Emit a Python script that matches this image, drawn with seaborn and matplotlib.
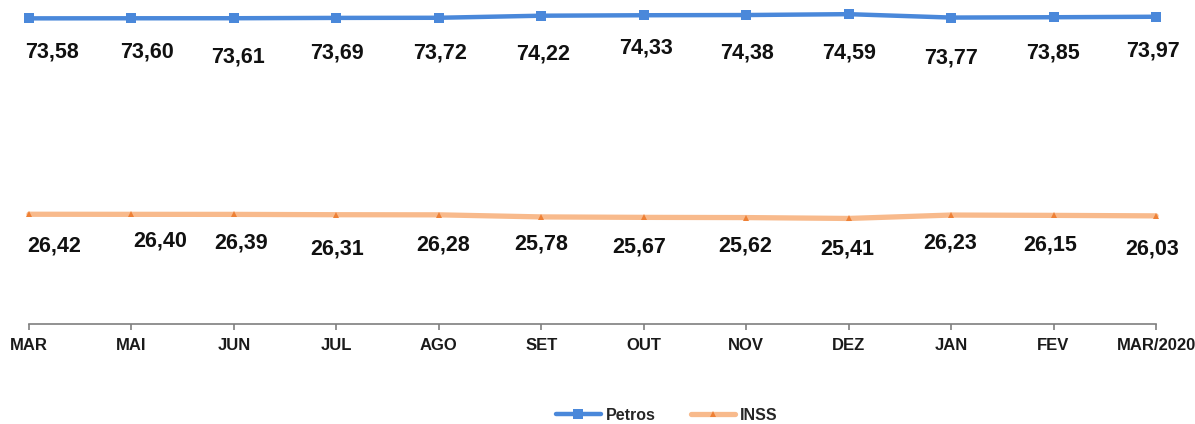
import matplotlib
matplotlib.use("Agg")
import matplotlib.pyplot as plt
import seaborn as sns
import pandas as pd

# ---- data ----
months = ["MAR", "MAI", "JUN", "JUL", "AGO", "SET", "OUT", "NOV", "DEZ", "JAN", "FEV", "MAR/2020"]
petros = [73.58, 73.60, 73.61, 73.69, 73.72, 74.22, 74.33, 74.38, 74.59, 73.77, 73.85, 73.97]
inss = [26.42, 26.40, 26.39, 26.31, 26.28, 25.78, 25.67, 25.62, 25.41, 26.23, 26.15, 26.03]
series_names = ["Petros", "INSS"]

# ---- label offsets (pixels, styling only) ----
petros_dx = [23, 16, 4, 1, 1, 2, 2, 1, 0, 0, -1, -3]
petros_dy = [34, 34, 39, 35, 35, 38, 33, 38, 39, 40, 36, 34]
inss_dx = [25, 29, 7, 1, 4, 0, -5, -1, -1, -1, -3, -4]
inss_dy = [32, 27, 29, 34, 30, 27, 30, 28, 31, 28, 30, 33]

sns.set_theme(style="white")
plt.rcParams["font.family"] = ["Liberation Sans", "DejaVu Sans"]

df = pd.DataFrame({
    "mes": months * 2,
    "pos": list(range(len(months))) * 2,
    "valor": petros + inss,
    "serie": [series_names[0]] * len(months) + [series_names[1]] * len(months),
})

fig = plt.figure(figsize=(11.95, 4.24), dpi=100)
ax = fig.add_axes([29 / 1195, 1 - 324 / 424, (1156 - 29) / 1195, 324 / 424])

blue = "#4A88DA"
orange_line = "#F8BA8C"
orange_mark = "#EE8035"

d1 = df[df.serie == "Petros"]
d2 = df[df.serie == "INSS"]
sns.lineplot(data=d1, x="pos", y="valor", ax=ax, color=blue, linewidth=3.2,
             marker="s", markersize=6.5, markeredgewidth=0, label="Petros",
             legend=False, clip_on=False)
sns.lineplot(data=d2, x="pos", y="valor", ax=ax, color=orange_line, linewidth=3.8,
             marker="^", markersize=4.5, markerfacecolor=orange_mark,
             markeredgewidth=0, label="INSS", legend=False, clip_on=False)

for i, v in enumerate(petros):
    ax.annotate(f"{v:.2f}".replace(".", ","), (i, v), xytext=(petros_dx[i], -petros_dy[i]),
                textcoords="offset pixels", ha="center", va="center",
                fontsize=15.5, fontweight="bold", color="#111111", annotation_clip=False)
for i, v in enumerate(inss):
    ax.annotate(f"{v:.2f}".replace(".", ","), (i, v), xytext=(inss_dx[i], -inss_dy[i]),
                textcoords="offset pixels", ha="center", va="center",
                fontsize=15.5, fontweight="bold", color="#111111", annotation_clip=False)

ax.set_xlim(0, len(months) - 1)
ax.set_ylim(0, 78)
ax.set_xticks(range(len(months)))
ax.set_xticklabels(months, fontsize=12, fontweight="bold", color="#1A1A1A")
ax.set_yticks([])
ax.set_xlabel("")
ax.set_ylabel("")
for s in ["top", "left", "right"]:
    ax.spines[s].set_visible(False)
ax.spines["bottom"].set_color("#7F7F7F")
ax.spines["bottom"].set_linewidth(1.2)
ax.tick_params(axis="x", direction="out", length=4, width=1.2, color="#7F7F7F", pad=6, bottom=True)

handles, labels = ax.get_legend_handles_labels()
fig.legend(handles, labels, loc="center", bbox_to_anchor=(0.558, 0.021), ncol=2,
           frameon=False, prop={"weight": "bold", "size": 11.5},
           handlelength=2.8, columnspacing=2.2, handletextpad=0.3)

fig.savefig("out.png", dpi=100)
